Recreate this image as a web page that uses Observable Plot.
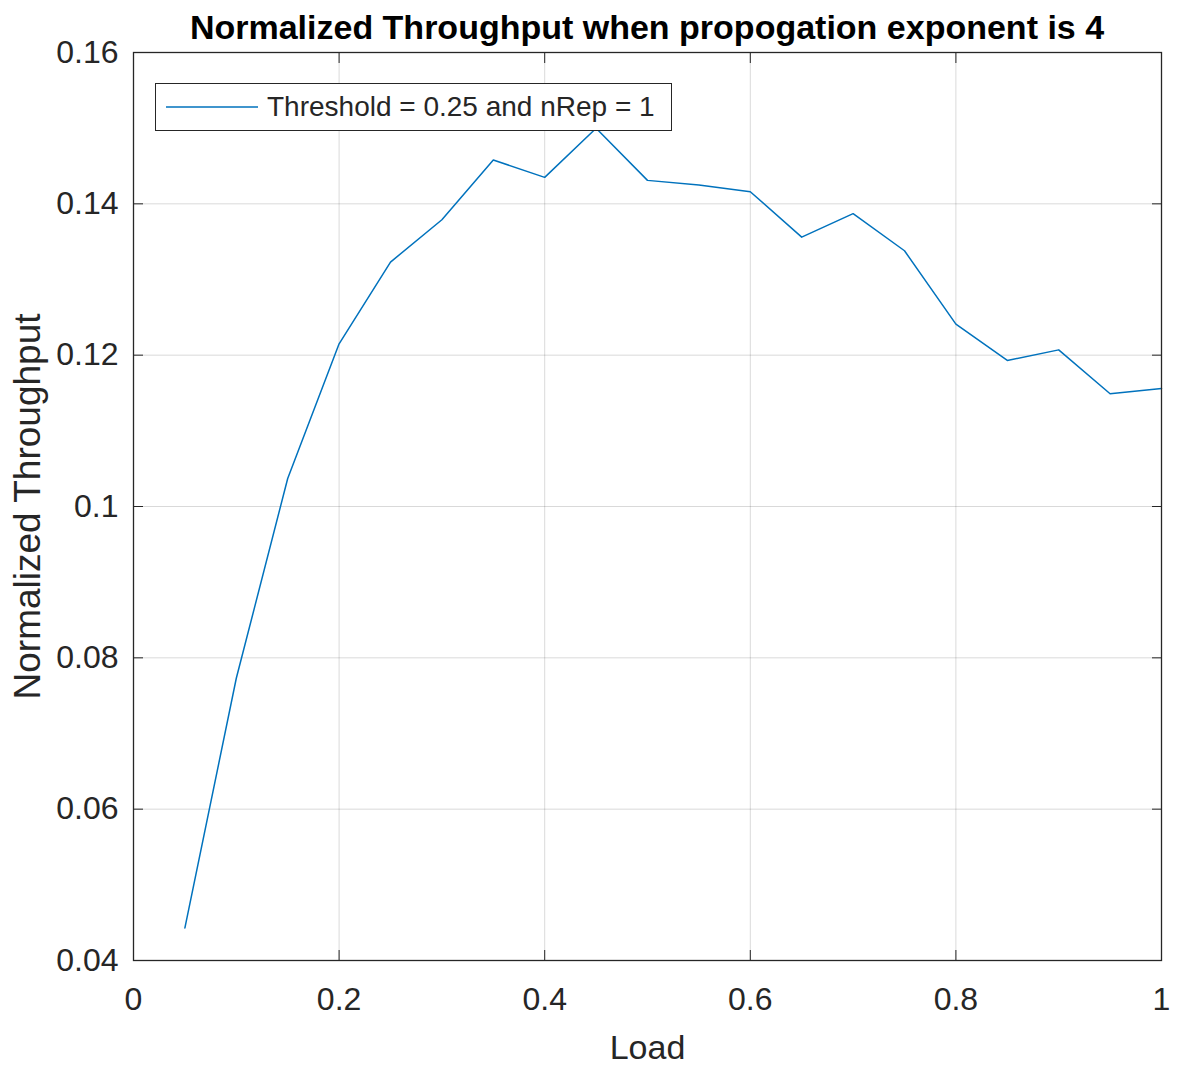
<!DOCTYPE html>
<html><head><meta charset="utf-8">
<script src="https://cdn.jsdelivr.net/npm/d3@7"></script>
<script src="https://cdn.jsdelivr.net/npm/@observablehq/plot@0.6"></script>
<style>
body{margin:0;background:#fff;font-family:"Liberation Sans",Arial,sans-serif;}
#wrap{position:relative;width:1177px;height:1073px;}
#title{height:46px;box-sizing:border-box;padding-top:6px;line-height:42px;font-size:34px;font-weight:bold;margin-left:133px;width:1028px;text-align:center;color:#000;white-space:nowrap;}
#legend{position:absolute;left:155px;top:83px;width:517px;height:48px;box-sizing:border-box;border:1.3px solid #262626;background:#fff;display:flex;align-items:center;font-size:28px;color:#262626;white-space:nowrap;}
#legend svg{margin-left:10px;margin-right:9px;}
</style></head><body>
<div id="wrap"><div id="title"></div><div id="chart"></div><div id="legend"></div></div>
<script>
const titleText = "Normalized Throughput when propogation exponent is 4";
const xLabel = "Load";
const yLabel = "Normalized Throughput";
const seriesName = "Threshold = 0.25 and nRep = 1";
const loads = [0.05,0.10,0.15,0.20,0.25,0.30,0.35,0.40,0.45,0.50,0.55,0.60,0.65,0.70,0.75,0.80,0.85,0.90,0.95,1.00];
const throughput = [0.0443,0.0773,0.1037,0.1215,0.1323,0.1379,0.1458,0.1435,0.1500,0.1431,0.1425,0.1416,0.1356,0.1387,0.1338,0.1241,0.1193,0.1207,0.1149,0.1156];
const xTicks = [0,0.2,0.4,0.6,0.8,1];
const xTickLabels = ["0","0.2","0.4","0.6","0.8","1"];
const yTicks = [0.04,0.06,0.08,0.1,0.12,0.14,0.16];
const yTickLabels = ["0.04","0.06","0.08","0.1","0.12","0.14","0.16"];

const lineColor = "#0072BD";
const axisColor = "#262626";
const data = loads.map((x,i)=>({load:x, value:throughput[i]}));

document.getElementById("title").textContent = titleText;

const plot = Plot.plot({
  width: 1177,
  height: 1027,
  marginTop: 6,
  marginLeft: 133,
  marginRight: 16,
  marginBottom: 113,
  style: {fontFamily: '"Liberation Sans", Arial, sans-serif', color: axisColor, overflow: "visible", background: "transparent"},
  x: {domain: [0,1], ticks: xTicks},
  y: {domain: [0.04,0.16], ticks: yTicks},
  marks: [
    Plot.gridX(xTicks, {stroke: "#000", strokeOpacity: 0.15}),
    Plot.gridY(yTicks, {stroke: "#000", strokeOpacity: 0.15}),
    Plot.line(data, {x: "load", y: "value", stroke: lineColor, strokeWidth: 1.5}),
    Plot.frame({stroke: axisColor, strokeWidth: 1.3}),
    Plot.axisX(xTicks, {anchor: "bottom", tickSize: 0, tickPadding: 27, fontSize: 32, tickFormat: d => xTickLabels[xTicks.indexOf(d)], label: null}),
    Plot.axisY(yTicks, {anchor: "left", tickSize: 0, tickPadding: 15, fontSize: 32, tickFormat: d => yTickLabels[yTicks.indexOf(d)], label: null}),
    Plot.axisX(xTicks, {anchor: "bottom", tickSize: 10, dy: -10, text: null, label: null, stroke: axisColor}),
    Plot.axisX(xTicks, {anchor: "top", tickSize: 10, dy: 10, text: null, label: null, stroke: axisColor}),
    Plot.axisY(yTicks, {anchor: "left", tickSize: 10, dx: 10, text: null, label: null, stroke: axisColor}),
    Plot.axisY(yTicks, {anchor: "right", tickSize: 10, dx: -10, text: null, label: null, stroke: axisColor}),
    Plot.text([xLabel], {text: d => d, frameAnchor: "bottom", dy: 98, fontSize: 34, fill: axisColor, textAnchor: "middle"}),
    Plot.text([yLabel], {text: d => d, frameAnchor: "left", dx: -105, rotate: -90, fontSize: 37, fill: axisColor, textAnchor: "middle"})
  ]
});
document.getElementById("chart").appendChild(plot);

const leg = document.getElementById("legend");
leg.innerHTML = `<svg width="92" height="10"><line x1="0" x2="92" y1="5" y2="5" stroke="${lineColor}" stroke-width="1.5"/></svg><span></span>`;
leg.querySelector("span").textContent = seriesName;
</script>
</body></html>
